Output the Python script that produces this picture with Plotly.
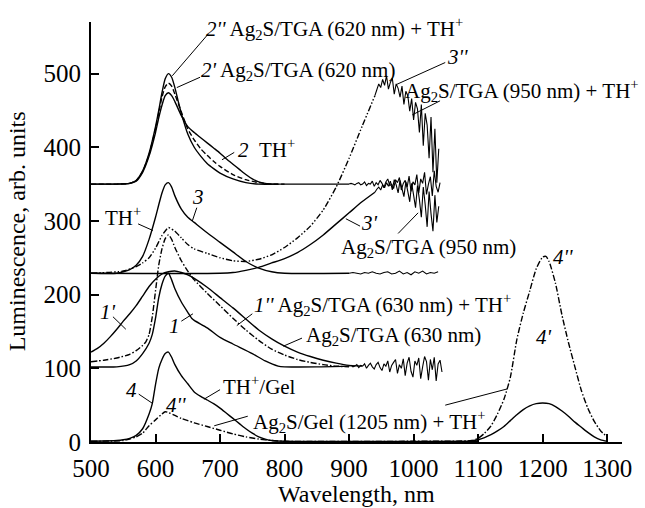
import plotly.graph_objects as go

# ---------------- data ----------------
# group 2 (baseline ~350)
wl_2pp = [500, 540, 560, 570, 580, 590, 600, 605, 610, 615, 620, 625, 630, 635, 640, 650, 660, 670, 680, 690, 700, 720, 740, 760, 790]
lum_2pp = [350, 350, 351, 355, 368, 392, 428, 450, 474, 493, 500, 495, 481, 463, 446, 418, 400, 388, 378, 371, 365, 357, 352, 350, 350]

wl_2p = [500, 540, 560, 570, 580, 590, 600, 610, 615, 620, 625, 630, 640, 650, 660, 670, 680, 690, 700, 720, 740, 760, 780, 800]
lum_2p = [350, 350, 351, 355, 367, 390, 425, 468, 482, 487, 483, 472, 448, 425, 410, 398, 389, 381, 374, 363, 356, 352, 350, 350]

wl_2 = [500, 540, 560, 570, 580, 590, 600, 605, 610, 615, 620, 625, 630, 640, 650, 660, 670, 680, 690, 700, 710, 720, 730, 740, 750,
        760, 770, 780, 800, 850, 900]
lum_2 = [350, 350, 351, 354, 366, 388, 420, 440, 457, 470, 474, 470, 462, 443, 428, 420, 413, 406, 399, 392, 384, 377, 370, 363, 357,
         353, 351, 350, 350, 350, 350]
wl_2_tail = list(range(900, 1042, 3))
lum_2_tail = [350, 351, 350, 349, 351, 352, 349, 350, 353, 348,
              351, 350, 354, 347, 352, 349, 355, 351, 345, 353,
              357, 348, 350, 344, 356, 352, 359, 342, 351, 355,
              346, 361, 340, 353, 349, 363, 338, 357, 351, 366,
              336, 350, 360, 334, 368, 347, 339, 352]

# group 3 (baseline ~229)
wl_3 = [500, 540, 550, 560, 570, 580, 590, 600, 605, 610, 615, 620, 625, 630, 640, 650, 660, 680, 700, 720, 740, 760, 780, 800, 900]
lum_3 = [229, 229, 231, 234, 240, 252, 275, 305, 322, 338, 349, 352, 346, 334, 316, 305, 298, 284, 271, 258, 245, 236, 231, 229, 229]
wl_3_tail = list(range(900, 1041, 6))
lum_3_tail = [229, 230, 229, 228, 230, 229, 231, 229, 228, 230, 231, 228, 229, 232, 228, 230, 227, 231, 229, 232, 228, 230, 229, 231]

wl_3pp = [500, 550, 570, 580, 590, 600, 610, 620, 630, 640, 650, 660, 680, 700, 720, 740, 760, 780, 800, 820, 840, 860, 880, 900, 920, 940]
lum_3pp = [229, 232, 238, 243, 250, 263, 280, 291, 286, 277, 268, 262, 256, 250, 246, 245, 248, 254, 264, 277, 293, 315, 346, 385, 428, 470]
wl_3pp_tail = list(range(940, 1042, 3))
lum_3pp_tail = [470, 478, 486, 481, 492, 484, 497, 479, 488, 494,
                472, 486, 480, 468, 483, 458, 476, 470, 449, 466,
                437, 461, 452, 420, 458, 402, 446, 430, 385, 441,
                366, 425, 352, 398]

wl_3p = [500, 700, 720, 740, 760, 780, 800, 820, 840, 860, 880, 900, 920, 940]
lum_3p = [229, 229, 230, 233, 237, 243, 249, 257, 268, 281, 296, 311, 326, 339]
wl_3p_tail = list(range(940, 1042, 3))
lum_3p_tail = [339, 343, 346, 342, 349, 345, 352, 347, 354, 342,
               356, 349, 338, 355, 344, 333, 353, 340, 326, 351,
               335, 318, 348, 329, 305, 346, 322, 292, 340, 310,
               286, 335, 298, 320]

# group 1 (baseline ~102)
wl_1 = [500, 540, 560, 570, 580, 590, 595, 600, 605, 610, 615, 620, 625, 630, 640, 650, 656, 660, 680, 700, 720, 750, 770, 790, 800,
        850, 900]
lum_1 = [102, 102, 105, 110, 120, 134, 146, 168, 196, 214, 225, 229, 220, 208, 190, 176, 168, 165, 155, 142, 133, 120, 110, 103, 102,
         102, 103]
wl_1_tail = list(range(900, 1047, 3))
lum_1_tail = [103, 104, 102, 103, 105, 101, 104, 103, 106, 100,
              104, 107, 102, 99, 105, 108, 101, 97, 106, 103,
              110, 95, 104, 108, 112, 93, 105, 100, 113, 90,
              107, 115, 96, 88, 110, 104, 114, 86, 102, 116,
              109, 84, 112, 98, 115, 83, 106, 111, 95]

wl_1p = [500, 510, 520, 530, 540, 550, 560, 570, 580, 590, 600, 610, 620, 630, 640, 650, 660, 680, 700, 720, 740, 760, 780, 800, 820, 840,
         860, 880, 900, 920]
lum_1p = [122, 127, 134, 143, 153, 164, 174, 185, 198, 211, 221, 228, 231, 232, 230, 227, 222, 210, 196, 182, 167, 152, 140, 130, 122, 116,
          111, 107, 104, 103]

wl_1pp = [500, 520, 540, 560, 570, 580, 585, 590, 595, 600, 605, 610, 615, 620, 625, 630, 640, 650, 660, 680, 700, 720, 740, 760, 780, 800,
          820, 840, 860, 880, 900]
lum_1pp = [109, 111, 114, 119, 124, 131, 136, 146, 170, 205, 240, 262, 276, 281, 275, 264, 246, 232, 220, 202, 185, 168, 152, 138, 126, 118,
           112, 108, 105, 103, 102]

# group 4 (baseline ~0)
wl_4 = [500, 540, 550, 560, 570, 580, 590, 595, 600, 605, 610, 615, 620, 625, 630, 640, 650, 660, 670, 680, 690, 700, 710, 720, 730, 740,
        750, 760, 770, 780, 800, 1100]
lum_4 = [1, 2, 3, 5, 9, 18, 38, 52, 78, 100, 112, 120, 122, 115, 105, 90, 79, 68, 62, 57, 52, 46, 39, 32, 25, 18,
         12, 7, 4, 2, 1, 1]

wl_4pp = [500, 550, 560, 570, 580, 590, 600, 610, 615, 620, 630, 640, 650, 660, 680, 700, 720, 740, 760, 780, 800, 1000, 1090, 1100, 1110,
          1120, 1130, 1140, 1150, 1160, 1170, 1180, 1190, 1200, 1205, 1210, 1220, 1230, 1240, 1250, 1260, 1270, 1280, 1290, 1300]
lum_4pp = [1, 2, 4, 7, 12, 22, 30, 38, 41, 40, 36, 32, 29, 26, 21, 16, 11, 7, 4, 2, 1, 1, 2, 5, 12,
           22, 38, 58, 88, 139, 175, 205, 235, 251, 252, 245, 215, 172, 135, 102, 70, 46, 28, 15, 7]

wl_4p = [1080, 1100, 1110, 1120, 1130, 1140, 1150, 1160, 1170, 1180, 1190, 1200, 1210, 1220, 1230, 1240, 1250, 1260, 1270, 1280, 1290, 1300]
lum_4p = [0, 3, 6, 10, 15, 21, 29, 37, 44, 49, 52, 53, 52, 48, 42, 35, 27, 20, 13, 7, 3, 1]

x_ticks = [500, 600, 700, 800, 900, 1000, 1100, 1200, 1300]
y_ticks = [0, 100, 200, 300, 400, 500]

# ---------------- figure ----------------
FONT = "Liberation Serif, Times New Roman, serif"
fig = go.Figure()

DASH = "5px,2.5px"
DASHDOT = "6px,2px,1.5px,2px"
DASHDOTDOT = "6px,2px,1.5px,2px,1.5px,2px"

smooth = [
    (wl_2pp, lum_2pp, "solid"), (wl_2p, lum_2p, DASH), (wl_2, lum_2, "solid"),
    (wl_3, lum_3, "solid"), (wl_3pp, lum_3pp, DASHDOTDOT), (wl_3p, lum_3p, "solid"),
    (wl_1, lum_1, "solid"), (wl_1p, lum_1p, "solid"), (wl_1pp, lum_1pp, DASHDOT),
    (wl_4, lum_4, "solid"), (wl_4pp, lum_4pp, DASHDOT), (wl_4p, lum_4p, "solid"),
]
for x, y, d in smooth:
    fig.add_trace(go.Scatter(x=x, y=y, mode="lines", showlegend=False, hoverinfo="skip",
                             line=dict(color="black", width=1.4, dash=d, shape="spline", smoothing=0.6)))

noisy = [
    (wl_2_tail, lum_2_tail), (wl_3_tail, lum_3_tail), (wl_3pp_tail, lum_3pp_tail),
    (wl_3p_tail, lum_3p_tail), (wl_1_tail, lum_1_tail),
]
for x, y in noisy:
    fig.add_trace(go.Scatter(x=x, y=y, mode="lines", showlegend=False, hoverinfo="skip",
                             line=dict(color="black", width=1.1, simplify=False)))

labels = [
    ("<i>2''</i> Ag<sub>2</sub>S/TGA (620 nm) + TH<sup>+</sup>", 675, 561, "left"),
    ("<i>2'</i> Ag<sub>2</sub>S/TGA (620 nm)", 667, 504, "left"),
    ("<i>2</i>\u00a0\u00a0TH<sup>+</sup>", 724, 399, "left"),
    ("TH<sup>+</sup>", 518, 306, "left"),
    ("<i>3</i>", 666, 333, "center"),
    ("<i>3''</i>", 1048, 522, "left"),
    ("Ag<sub>2</sub>S/TGA (950 nm) + TH<sup>+</sup>", 984, 477, "left"),
    ("<i>3'</i>", 931, 297, "center"),
    ("Ag<sub>2</sub>S/TGA (950 nm)", 884, 263, "left"),
    ("<i>1''</i> Ag<sub>2</sub>S/TGA (630 nm) + TH<sup>+</sup>", 749, 186, "left"),
    ("Ag<sub>2</sub>S/TGA (630 nm)", 830, 144, "left"),
    ("<i>1'</i>", 526, 177, "center"),
    ("<i>1</i>", 630, 158, "center"),
    ("TH<sup>+</sup>/Gel", 701, 77, "left"),
    ("<i>4</i>", 562, 71, "center"),
    ("<i>4''</i>", 632, 50, "center"),
    ("Ag<sub>2</sub>S/Gel (1205 nm) + TH<sup>+</sup>", 748, 28, "left"),
    ("<i>4''</i>", 1232, 251, "center"),
    ("<i>4'</i>", 1202, 143, "center"),
]
for t, x, y, xa in labels:
    fig.add_annotation(x=x, y=y, text=t, showarrow=False, xanchor=xa, yanchor="middle",
                       font=dict(family=FONT, size=21, color="black"))

leaders = [
    (681, 553, 626, 497), (669, 495, 633, 481), (722, 393, 703, 383), (573, 296, 596, 287),
    (664, 318, 657, 300), (1049, 515, 973, 485), (1041, 463, 998, 444), (917, 293, 895, 303),
    (976, 283, 1007, 311), (750, 174, 726, 158), (827, 141, 798, 130), (534, 170, 554, 153),
    (640, 164, 658, 174), (700, 71, 675, 58), (574, 65, 596, 52), (743, 35, 691, 22),
    (1049, 50, 1145, 72),
]
for x0, y0, x1, y1 in leaders:
    fig.add_shape(type="line", x0=x0, y0=y0, x1=x1, y1=y1, xref="x", yref="y",
                  line=dict(color="black", width=1))

fig.add_annotation(text="Wavelength, nm", xref="paper", yref="paper", x=0.5, y=-0.124,
                   xanchor="center", yanchor="middle", showarrow=False,
                   font=dict(family=FONT, size=24, color="black"))
fig.add_annotation(text="Luminescence, arb. units", xref="paper", yref="paper", x=-0.139, y=0.502,
                   xanchor="center", yanchor="middle", showarrow=False, textangle=-90,
                   font=dict(family=FONT, size=24, color="black"))

axis_common = dict(showline=True, linewidth=2, linecolor="black", ticks="inside", ticklen=8,
                   tickwidth=1.5, tickcolor="black", showgrid=False, zeroline=False,
                   tickfont=dict(family=FONT, size=25, color="black"), ticklabelstandoff=3)
fig.update_layout(
    width=645, height=508, autosize=False,
    margin=dict(l=91, r=23, t=22, b=66, pad=0),
    paper_bgcolor="white", plot_bgcolor="white",
    xaxis=dict(range=[500, 1323], tickvals=x_ticks, **axis_common),
    yaxis=dict(range=[0, 570], tickvals=y_ticks, **axis_common),
)
fig.write_html("out.html", config={"displayModeBar": False},
               post_script="document.body.style.margin='0';document.body.style.overflow='hidden';")
